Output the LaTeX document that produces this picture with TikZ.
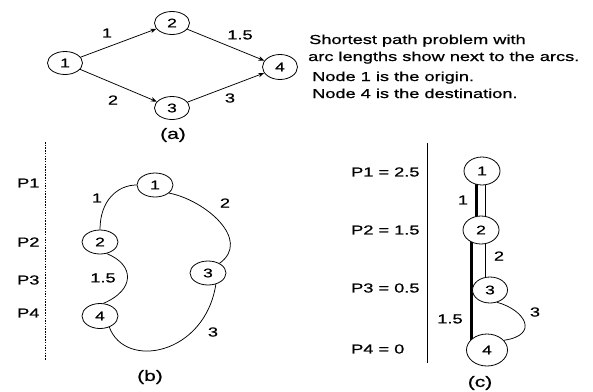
\documentclass[tikz,border=0pt]{standalone}
\usepackage{fontspec}
\setmainfont{Liberation Sans}[FakeStretch=1.4,FakeBold=0.8]
\usetikzlibrary{shapes.geometric,arrows.meta}
\pgfdeclarelayer{bg}
\pgfsetlayers{bg,main}
\begin{document}
\begin{tikzpicture}[x=1pt,y=-1pt,
  nd/.style={ellipse,draw,line width=0.8pt,fill=white,minimum width=35pt,minimum height=23pt,inner sep=0pt,font=\fontsize{12.5}{14}\selectfont},
  lbl/.style={font=\fontsize{13}{15}\selectfont,inner sep=0pt},
  txt/.style={font=\fontsize{13}{15}\selectfont,inner sep=0pt,anchor=base west},
  plbl/.style={font=\fontsize{13}{15}\selectfont,inner sep=0pt,anchor=west},
  figcap/.style={font=\fontsize{15}{17}\selectfont,inner sep=0pt},
  arc/.style={line width=0.75pt},
  arr/.style={arc,-{Stealth[length=6pt,width=4.5pt]}},
  heavy/.style={line width=3pt},
  axis/.style={line width=0.7pt}]
\useasboundingbox (0,0) rectangle (593,391);

% ---------- (a) ----------
\node[nd] (a1) at (65,63) {1};
\node[nd] (a2) at (172,23) {2};
\node[nd] (a3) at (172,108) {3};
\node[nd,minimum height=25pt] (a4) at (280,67) {4};
\draw[arr] (a1) -- (a2);
\draw[arr] (a2) -- (a4);
\draw[arr] (a1) -- (a3);
\draw[arr] (a3) -- (a4);
\node[lbl] (la12) at (107,33) {1};
\node[lbl] (la24) at (240,35) {1.5};
\node[lbl] (la13) at (113,100) {2};
\node[lbl] (la34) at (230,98) {3};
\node[figcap] (capa) at (173,135) {(a)};

\node[txt] (t1) at (309,44) {Shortest path problem with};
\node[txt] (t2) at (308,61) {arc lengths show next to the arcs.};
\node[txt] (t3) at (312,81) {Node 1 is the origin.};
\node[txt] (t4) at (312,98) {Node 4 is the destination.};

% ---------- (b) ----------
\coordinate (bt) at (45,142);
\coordinate (bb) at (45,360);
\draw[line width=0.7pt,dash pattern=on 1.5pt off 1.2pt] (bt) -- (bb);
\node[plbl] (p1b) at (17,183) {P1};
\node[plbl] (p2b) at (17,242) {P2};
\node[plbl] (p3b) at (17,280) {P3};
\node[plbl] (p4b) at (17,313) {P4};

\node[nd,minimum width=36pt,minimum height=24pt] (b1) at (155,185) {1};
\node[nd,minimum width=36pt,minimum height=24pt] (b2) at (100,242) {2};
\node[nd,minimum width=36pt,minimum height=24pt] (b3) at (208,273) {3};
\node[nd,minimum width=36pt,minimum height=25pt] (b4) at (100,316) {4};
\draw[arc] (b1.west) .. controls (118,185) and (100,200) .. (b2.north);
\draw[arc] (b1.-30) .. controls (205,200) and (252,240) .. (b3.40);
\draw[arc] (b2.-60) .. controls (135,265) and (135,290) .. (b4.75);
\draw[arc] (b3.-55) .. controls (205,355) and (125,370) .. (b4.-50);
\node[lbl] (lb12) at (97,198) {1};
\node[lbl] (lb13) at (225,203) {2};
\node[lbl] (lb24) at (103,278) {1.5};
\node[lbl] (lb34) at (213,332) {3};
\node[figcap] (capb) at (150,377) {(b)};

% ---------- (c) ----------
\coordinate (ct) at (427,143);
\coordinate (cb) at (427,363);
\draw[axis] (ct) -- (cb);
\node[plbl] (p1c) at (351,172) {P1 = 2.5};
\node[plbl] (p2c) at (351,230) {P2 = 1.5};
\node[plbl] (p3c) at (351,288) {P3 = 0.5};
\node[plbl] (p4c) at (351,349) {P4 = 0};

\node[nd,minimum width=36pt,minimum height=28pt] (c1) at (482,171) {1};
\node[nd,minimum width=36pt,minimum height=28pt] (c2) at (481,230) {2};
\node[nd,minimum width=35pt,minimum height=26pt] (c3) at (490,290) {3};
\node[nd,minimum width=41pt,minimum height=32pt] (c4) at (487,350) {4};
\begin{pgfonlayer}{bg}
\draw[arc] ([xshift=3pt]c1.center) -- ([xshift=-5pt]c3.center);
\draw[heavy] ([xshift=-6pt]c1.center) -- ([xshift=-5pt]c2.center);
\draw[heavy] ([xshift=-10pt]c2.center) -- ([xshift=-16pt]c4.center);
\end{pgfonlayer}
\draw[arc] (c3.-60) .. controls (525,310) and (540,335) .. (c4.30);
\node[lbl] (lc12) at (463,200) {1};
\node[lbl] (lc13) at (499,256) {2};
\node[lbl] (lc24) at (450,319) {1.5};
\node[lbl] (lc34) at (535,312) {3};
\node[figcap] (capc) at (480,383) {(c)};
\end{tikzpicture}
\end{document}
